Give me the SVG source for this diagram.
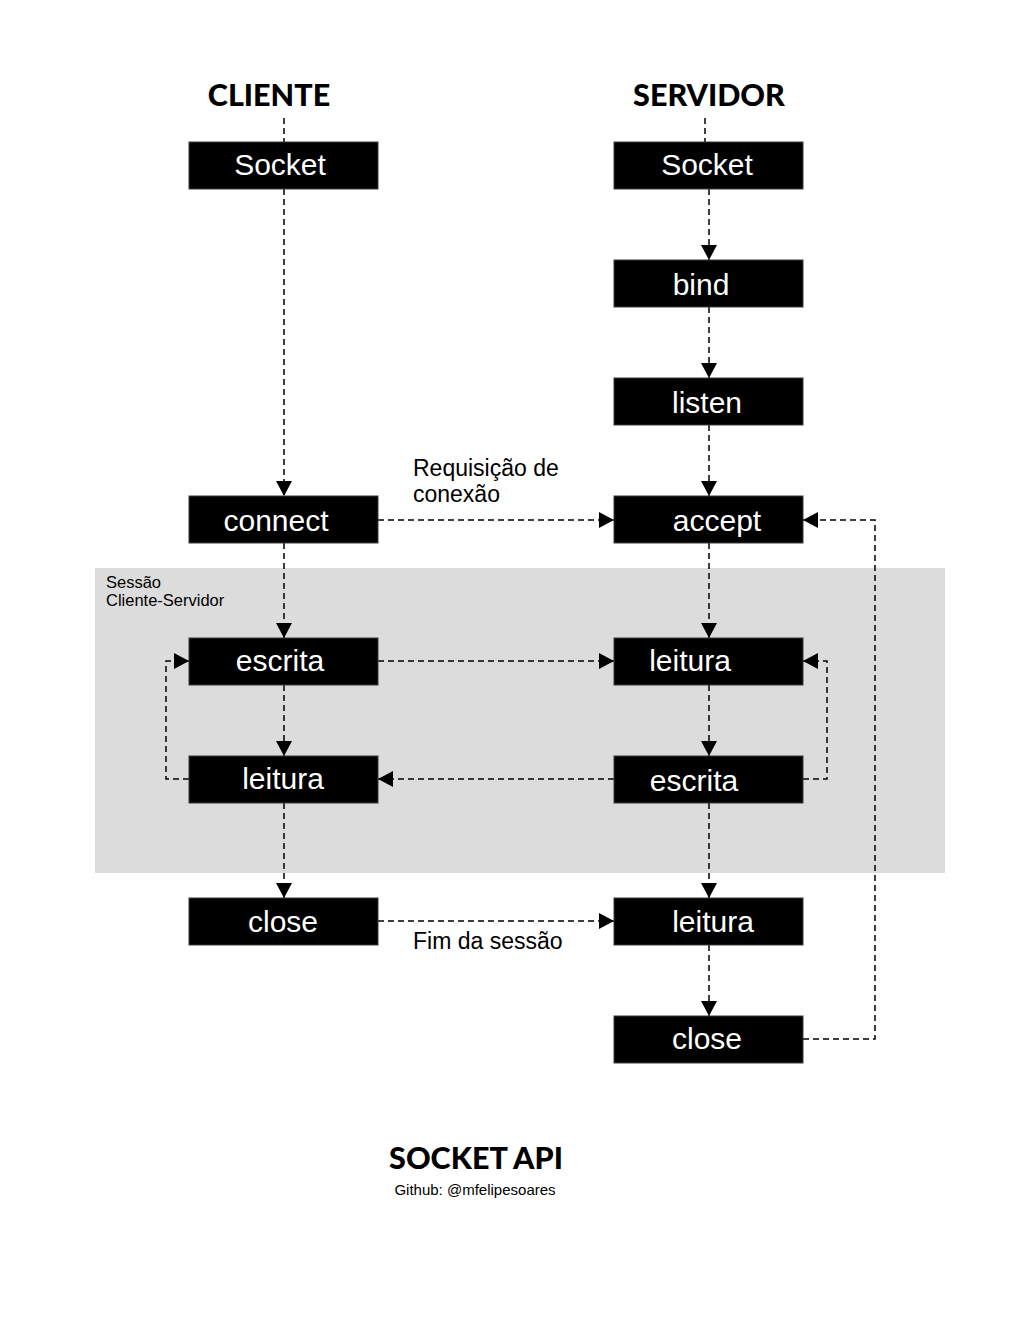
<svg xmlns="http://www.w3.org/2000/svg" width="1020" height="1320" viewBox="0 0 1020 1320">
<defs>
<style>
.box{fill:#000;stroke:#3a3a3a;stroke-width:1}
.lbl{font-family:"Liberation Sans",Arial,sans-serif;font-size:30px;fill:#fff}
.title{font-family:Lato,"Open Sans",sans-serif;font-weight:900;font-size:30.5px;fill:#000}
.note{font-family:"Liberation Sans",Arial,sans-serif;font-size:23px;fill:#000}
.small{font-family:"Liberation Sans",Arial,sans-serif;font-size:16.5px;fill:#000}
.edge{fill:none;stroke:#000;stroke-width:1.5;stroke-dasharray:6 4}
</style>
<marker id="arrow" viewBox="0 0 15 16" refX="15" refY="8" markerWidth="15" markerHeight="16" markerUnits="userSpaceOnUse" orient="auto">
<path d="M0,0 L15,8 L0,16 Z" fill="#000"/>
</marker>
</defs>
<rect width="1020" height="1320" fill="#fff"/>
<rect id="session" x="95" y="568" width="850" height="305" fill="#dcdcdc"/>
<text class="small" x="106" y="588">Sessão</text>
<text class="small" x="106" y="606">Cliente-Servidor</text>

<text class="title" x="269" y="106" text-anchor="middle">CLIENTE</text>
<text class="title" x="709" y="106" text-anchor="middle">SERVIDOR</text>

<g id="connectors">
<path class="edge" d="M284,118 V142"/>
<path class="edge" d="M705,118 V142"/>
<path class="edge" d="M284,189 V496" marker-end="url(#arrow)"/>
<path class="edge" d="M709,189 V260" marker-end="url(#arrow)"/>
<path class="edge" d="M709,307 V378" marker-end="url(#arrow)"/>
<path class="edge" d="M709,425 V496" marker-end="url(#arrow)"/>
<path class="edge" d="M378,520 H614" marker-end="url(#arrow)"/>
<path class="edge" d="M284,543 V638" marker-end="url(#arrow)"/>
<path class="edge" d="M709,543 V638" marker-end="url(#arrow)"/>
<path class="edge" d="M378,661 H614" marker-end="url(#arrow)"/>
<path class="edge" d="M284,685 V756" marker-end="url(#arrow)"/>
<path class="edge" d="M709,685 V756" marker-end="url(#arrow)"/>
<path class="edge" d="M614,779 H378" marker-end="url(#arrow)"/>
<path class="edge" d="M189,779 H166 V661 H189" marker-end="url(#arrow)"/>
<path class="edge" d="M803,779 H827 V661 H803" marker-end="url(#arrow)"/>
<path class="edge" d="M284,803 V898" marker-end="url(#arrow)"/>
<path class="edge" d="M709,803 V898" marker-end="url(#arrow)"/>
<path class="edge" d="M378,921 H614" marker-end="url(#arrow)"/>
<path class="edge" d="M709,945 V1016" marker-end="url(#arrow)"/>
<path class="edge" d="M803,1039 H875 V520 H803" marker-end="url(#arrow)"/>
</g>

<text class="note" x="413" y="476">Requisição de</text>
<text class="note" x="413" y="502">conexão</text>
<text class="note" x="413" y="949">Fim da sessão</text>

<g id="c-socket"><rect class="box" x="189" y="142" width="189" height="47"/><text class="lbl" x="280" y="175" text-anchor="middle">Socket</text></g>
<g id="c-connect"><rect class="box" x="189" y="496" width="189" height="47"/><text class="lbl" x="276" y="531" text-anchor="middle">connect</text></g>
<g id="c-escrita"><rect class="box" x="189" y="638" width="189" height="47"/><text class="lbl" x="280" y="671" text-anchor="middle">escrita</text></g>
<g id="c-leitura"><rect class="box" x="189" y="756" width="189" height="47"/><text class="lbl" x="283" y="789" text-anchor="middle">leitura</text></g>
<g id="c-close"><rect class="box" x="189" y="898" width="189" height="47"/><text class="lbl" x="283" y="932" text-anchor="middle">close</text></g>

<g id="s-socket"><rect class="box" x="614" y="142" width="189" height="47"/><text class="lbl" x="707" y="175" text-anchor="middle">Socket</text></g>
<g id="s-bind"><rect class="box" x="614" y="260" width="189" height="47"/><text class="lbl" x="701" y="295" text-anchor="middle">bind</text></g>
<g id="s-listen"><rect class="box" x="614" y="378" width="189" height="47"/><text class="lbl" x="707" y="413" text-anchor="middle">listen</text></g>
<g id="s-accept"><rect class="box" x="614" y="496" width="189" height="47"/><text class="lbl" x="717" y="531" text-anchor="middle">accept</text></g>
<g id="s-leitura"><rect class="box" x="614" y="638" width="189" height="47"/><text class="lbl" x="690" y="671" text-anchor="middle">leitura</text></g>
<g id="s-escrita"><rect class="box" x="614" y="756" width="189" height="47"/><text class="lbl" x="694" y="791" text-anchor="middle">escrita</text></g>
<g id="s-leitura2"><rect class="box" x="614" y="898" width="189" height="47"/><text class="lbl" x="713" y="932" text-anchor="middle">leitura</text></g>
<g id="s-close"><rect class="box" x="614" y="1016" width="189" height="47"/><text class="lbl" x="707" y="1049" text-anchor="middle">close</text></g>

<text class="title" x="476" y="1169" text-anchor="middle">SOCKET API</text>
<text class="small" x="475" y="1195" text-anchor="middle" style="font-size:15px">Github: @mfelipesoares</text>
</svg>
